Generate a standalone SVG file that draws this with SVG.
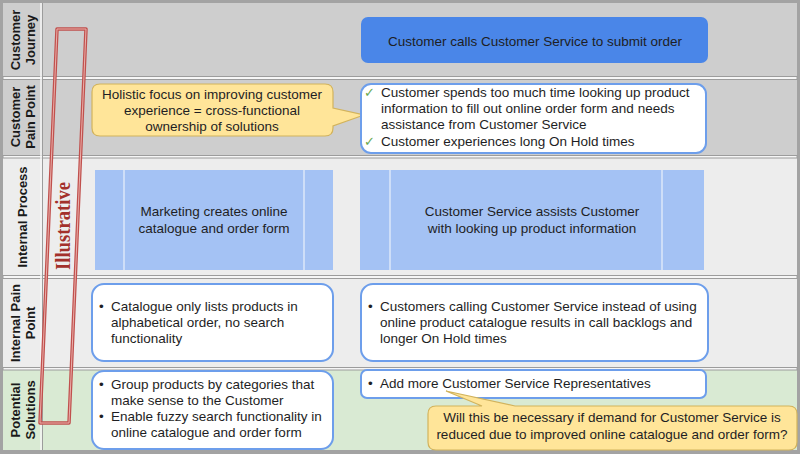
<svg xmlns="http://www.w3.org/2000/svg" width="800" height="454" viewBox="0 0 800 454">
<style>
.lbl{font-family:"Liberation Sans",Arial,sans-serif;font-size:13px;font-weight:bold;fill:#1a1a1a;text-anchor:middle}
.t{font-family:"Liberation Sans",Arial,sans-serif;font-size:13.5px;fill:#1e1e24}
.c{text-anchor:middle}
.sep{fill:#f6f6f6;stroke:#9c9c9c;stroke-width:1}
.wbox{fill:#ffffff;stroke:#6d9eeb;stroke-width:2}
.pbox{fill:#a4c2f4}
.div{stroke:#dce7fa;stroke-width:1.5}
.call{fill:#ffe599;stroke:#d2b35c;stroke-width:1.2}
.chk{font-family:"DejaVu Sans",sans-serif;font-size:13px;fill:#6aa84f}
</style>
<rect x="0" y="0" width="800" height="454" fill="#a3a3a3"/>
<g id="lanes">
<rect x="3" y="3" width="794" height="73" fill="#cecece"/>
<rect x="3" y="80" width="794" height="75" fill="#cecece"/>
<rect x="3" y="158" width="794" height="117" fill="#ededed"/>
<rect x="3" y="279" width="794" height="88" fill="#ededed"/>
<rect x="3" y="370" width="794" height="80" fill="#d9ead3"/>
<rect class="sep" x="3" y="76.5" width="794" height="3"/>
<rect class="sep" x="3" y="155.5" width="794" height="2.5"/>
<rect class="sep" x="3" y="275.5" width="794" height="3"/>
<rect class="sep" x="3" y="367.5" width="794" height="2.5"/>
<line x1="41" y1="3" x2="41" y2="450" stroke="#f6f6f6" stroke-width="1.5"/>
<line x1="42.5" y1="3" x2="42.5" y2="450" stroke="#9c9c9c" stroke-width="1"/>
<text class="lbl" transform="translate(22,40) rotate(-90)"><tspan x="0" y="-2">Customer</tspan><tspan x="0" y="13">Journey</tspan></text>
<text class="lbl" transform="translate(22,117) rotate(-90)"><tspan x="0" y="-2">Customer</tspan><tspan x="0" y="13">Pain Point</tspan></text>
<text class="lbl" transform="translate(22,217) rotate(-90)"><tspan x="0" y="5">Internal Process</tspan></text>
<text class="lbl" transform="translate(22,323) rotate(-90)"><tspan x="0" y="-2">Internal  Pain</tspan><tspan x="0" y="13">Point</tspan></text>
<text class="lbl" transform="translate(22,410) rotate(-90)"><tspan x="0" y="-2">Potential</tspan><tspan x="0" y="13">Solutions</tspan></text>
</g>
<g id="illustrative">
<polygon points="57,29 86,29 69,423 40,423" fill="none" stroke="#c0504d" stroke-width="3.5" stroke-linejoin="round"/>
<polygon points="57,29 86,29 69,423 40,423" fill="none" stroke="#eab1ac" stroke-width="1" stroke-linejoin="round"/>
<text transform="translate(70,226) rotate(-90)" text-anchor="middle" font-family="Liberation Serif,'Times New Roman',serif" font-size="20" font-weight="bold" fill="#a3302b" textLength="88" lengthAdjust="spacingAndGlyphs">Illustrative</text>
</g>
<g id="connectors"></g>
<g id="journey">
<rect x="361" y="17" width="347" height="46" rx="7" fill="#4a86e8"/>
<text class="t c" x="535" y="46">Customer calls Customer Service to submit order</text>
</g>
<g id="callout-holistic">
<path class="call" d="M100,84 H325 Q333,84 333,92 V108 L364,115 L333,126 V128 Q333,136 325,136 H100 Q92,136 92,128 V92 Q92,84 100,84 Z"/>
<text class="t c"><tspan x="212" y="99">Holistic focus on improving customer</tspan><tspan x="212" y="115">experience = cross-functional</tspan><tspan x="212" y="131">ownership of solutions</tspan></text>
</g>
<g id="customer-pain">
<rect class="wbox" x="361" y="84" width="345" height="69" rx="10"/>
<text class="chk" x="364" y="97">✓</text>
<text class="chk" x="364" y="146">✓</text>
<text class="t"><tspan x="381" y="97">Customer spends too much time looking up product</tspan><tspan x="381" y="113">information to fill out online order form and needs</tspan><tspan x="381" y="129">assistance from Customer Service</tspan><tspan x="381" y="146">Customer experiences long On Hold times</tspan></text>
</g>
<g id="process-marketing">
<rect class="pbox" x="95" y="170" width="238" height="100"/>
<line class="div" x1="124" y1="170" x2="124" y2="270"/>
<line class="div" x1="304" y1="170" x2="304" y2="270"/>
<text class="t c"><tspan x="214" y="216">Marketing creates online</tspan><tspan x="214" y="233">catalogue and order form</tspan></text>
</g>
<g id="process-service">
<rect class="pbox" x="360" y="170" width="344" height="100"/>
<line class="div" x1="390" y1="170" x2="390" y2="270"/>
<line class="div" x1="662" y1="170" x2="662" y2="270"/>
<text class="t c"><tspan x="532" y="216">Customer Service assists Customer</tspan><tspan x="532" y="233">with looking up product information</tspan></text>
</g>
<g id="pain-catalogue">
<rect class="wbox" x="92" y="284" width="241" height="77" rx="12"/>
<text class="t"><tspan x="99" y="311">•</tspan><tspan x="111" y="311">Catalogue only lists products in</tspan><tspan x="111" y="327">alphabetical order, no search</tspan><tspan x="111" y="343">functionality</tspan></text>
</g>
<g id="pain-calls">
<rect class="wbox" x="361" y="284" width="347" height="77" rx="12"/>
<text class="t"><tspan x="368" y="311">•</tspan><tspan x="380" y="311">Customers calling Customer Service instead of using</tspan><tspan x="380" y="327">online product catalogue results in call backlogs and</tspan><tspan x="380" y="343">longer On Hold times</tspan></text>
</g>
<g id="solution-group">
<rect class="wbox" x="92" y="371" width="241" height="78" rx="12"/>
<text class="t"><tspan x="99" y="389">•</tspan><tspan x="111" y="389">Group products by categories that</tspan><tspan x="111" y="405">make sense to the Customer</tspan><tspan x="99" y="421">•</tspan><tspan x="111" y="421">Enable fuzzy search functionality in</tspan><tspan x="111" y="437">online catalogue and order form</tspan></text>
</g>
<g id="solution-reps">
<rect class="wbox" x="361" y="370" width="345" height="28" rx="6"/>
<text class="t"><tspan x="368" y="388">•</tspan><tspan x="380" y="388">Add more Customer Service Representatives</tspan></text>
</g>
<g id="callout-question">
<path class="call" d="M436,406 H482 L446,391 L515,406 H789 Q797,406 797,414 V442 Q797,450 789,450 H436 Q428,450 428,442 V414 Q428,406 436,406 Z"/>
<text class="t c"><tspan x="612" y="422">Will this be necessary if demand for Customer Service is</tspan><tspan x="612" y="439">reduced due to improved online catalogue and order form?</tspan></text>
</g>
</svg>
